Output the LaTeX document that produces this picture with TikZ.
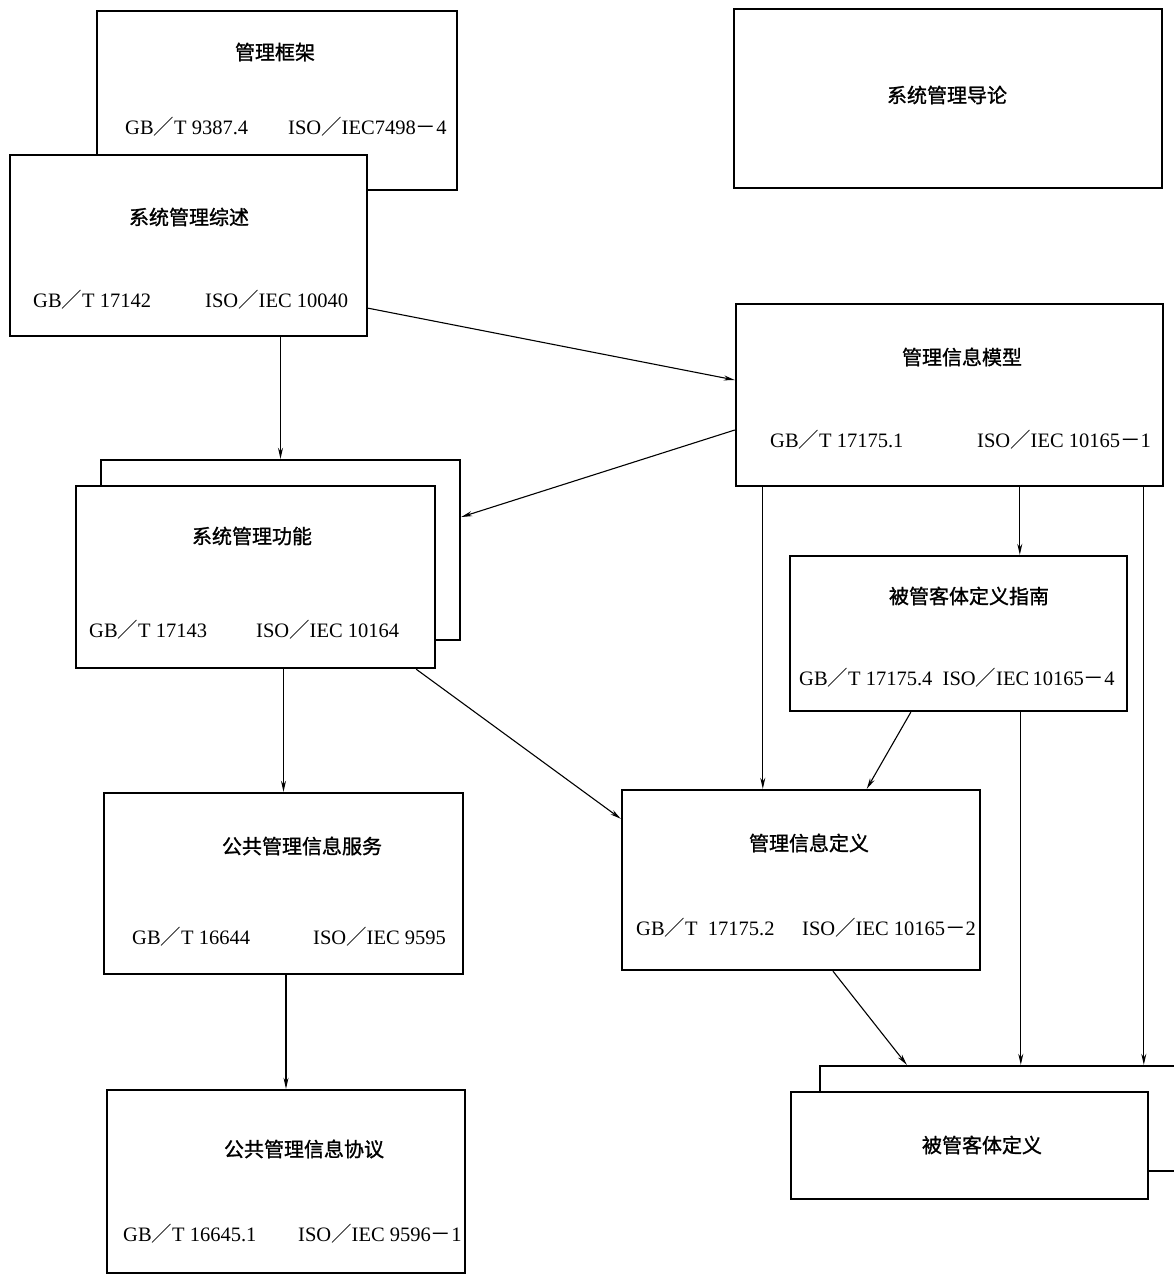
\documentclass[tikz,border=0pt]{standalone}
\usepackage{fontspec}
\setmainfont{Liberation Serif}
\newfontfamily\cjk{Noto Sans CJK SC}
\newfontfamily\cjkb{Noto Sans CJK SC}[FakeBold=1.2]
\usetikzlibrary{arrows.meta,calc}
\newcommand\fsl{{\cjk ／}}
\newcommand\fmn{{\cjk －}}
\begin{document}
\begin{tikzpicture}[x=1pt,y=-1pt,
 box/.style={draw,line width=2.4pt,fill=white,inner sep=0pt},
 ttl/.style={font=\cjkb\fontsize{20}{24}\selectfont,inner sep=0pt},
 code/.style={font=\fontsize{20.5}{24}\selectfont,inner sep=0pt,anchor=base west},
 arr/.style={line width=1.1pt,-{Stealth[length=11pt,width=5pt]}}]
\clip (0,0) rectangle (1174,1275);
\fill[white] (0,0) rectangle (1174,1275);
% back boxes first
\node[box,minimum width=360pt,minimum height=179pt] (kj) at (277,100.5) {};
\node[box,minimum width=357pt,minimum height=181pt] (zs) at (188.5,245.5) {};
\node[box,minimum width=428pt,minimum height=179pt] (dl) at (948,98.5) {};
\node[box,minimum width=427pt,minimum height=182pt] (mx) at (949.5,395) {};
\node[box,minimum width=359pt,minimum height=180pt] (gnb) at (280.5,550) {};
\node[box,minimum width=359pt,minimum height=182pt] (gn) at (255.5,577) {};
\node[box,minimum width=337pt,minimum height=155pt] (zn) at (958.5,633.5) {};
\node[box,minimum width=359pt,minimum height=181pt] (fw) at (283.5,883.5) {};
\node[box,minimum width=358pt,minimum height=180pt] (dy) at (801,880) {};
\node[box,minimum width=358pt,minimum height=183pt] (xy) at (286,1181.5) {};
\node[box,minimum width=380pt,minimum height=105pt] (ktb) at (1010,1118.5) {};
\node[box,minimum width=357pt,minimum height=107pt] (kt) at (969.5,1145.5) {};
% titles
\node[ttl] (t1) at (275,52) {管理框架};
\node[ttl] (t2) at (189,217) {系统管理综述};
\node[ttl] (t3) at (947,95) {系统管理导论};
\node[ttl] (t4) at (962,357) {管理信息模型};
\node[ttl] (t5) at (252,536) {系统管理功能};
\node[ttl] (t6) at (969,596) {被管客体定义指南};
\node[ttl] (t7) at (302,846) {公共管理信息服务};
\node[ttl] (t8) at (809,843) {管理信息定义};
\node[ttl] (t9) at (304,1149) {公共管理信息协议};
\node[ttl] (t10) at (982,1145) {被管客体定义};
% codes
\node[code] (c1a) at (125,134) {GB\fsl T 9387.4};
\node[code] (c1b) at (288,134) {ISO\fsl IEC7498\fmn 4};
\node[code] (c2a) at (33,307) {GB\fsl T 17142};
\node[code] (c2b) at (205,307) {ISO\fsl IEC 10040};
\node[code] (c4a) at (770,447) {GB\fsl T 17175.1};
\node[code] (c4b) at (977,447) {ISO\fsl IEC 10165\fmn 1};
\node[code] (c5a) at (89,637) {GB\fsl T 17143};
\node[code] (c5b) at (256,637) {ISO\fsl IEC 10164};
\node[code] (c6a) at (799,685) {GB\fsl T 17175.4\ \ ISO\fsl IEC\,10165\fmn 4};
\node[code] (c7a) at (132,944) {GB\fsl T 16644};
\node[code] (c7b) at (313,944) {ISO\fsl IEC 9595};
\node[code] (c8a) at (636,935) {GB\fsl T\ \ 17175.2};
\node[code] (c8b) at (802,935) {ISO\fsl IEC 10165\fmn 2};
\node[code] (c9a) at (123,1241) {GB\fsl T 16645.1};
\node[code] (c9b) at (298,1241) {ISO\fsl IEC 9596\fmn 1};
% connector points
\coordinate (p1) at ($(zs.south east)+(0,-29)$);
\coordinate (q1) at ($(mx.west)+(0,-15)$);
\coordinate (p2) at ($(mx.west)+(0,35)$);
\coordinate (q2) at ($(gnb.east)+(0,-33)$);
\coordinate (p3) at ($(mx.south west)+(28,0)$);
\coordinate (p4) at ($(mx.south west)+(285,0)$);
\coordinate (p5) at ($(mx.south west)+(409,0)$);
\coordinate (p6) at ($(zn.south west)+(122,0)$);
\coordinate (q6) at ($(dy.north west)+(246,0)$);
\coordinate (p7) at ($(zn.south west)+(232,0)$);
\coordinate (p8) at ($(gn.south east)+(-20,0)$);
\coordinate (q8) at ($(dy.north west)+(0,30)$);
\coordinate (p9) at ($(dy.south)+(32,0)$);
\coordinate (q9) at ($(ktb.north west)+(88,0)$);
% connectors
\draw[arr] (zs.south -| gnb.north) -- (gnb.north);
\draw[arr] (p1) -- (q1);
\draw[arr] (p2) -- (q2);
\draw[arr] (p3) -- (p3 |- dy.north);
\draw[arr] (p4) -- (p4 |- zn.north);
\draw[arr] (p5) -- (p5 |- ktb.north);
\draw[arr] (p6) -- (q6);
\draw[arr] (p7) -- (p7 |- ktb.north);
\draw[arr] (gn.south -| fw.north) -- (fw.north);
\draw[arr] (p8) -- (q8);
\draw[arr] (p9) -- (q9);
\draw[arr] (fw.south -| xy.north) -- (xy.north);
\end{tikzpicture}
\end{document}
